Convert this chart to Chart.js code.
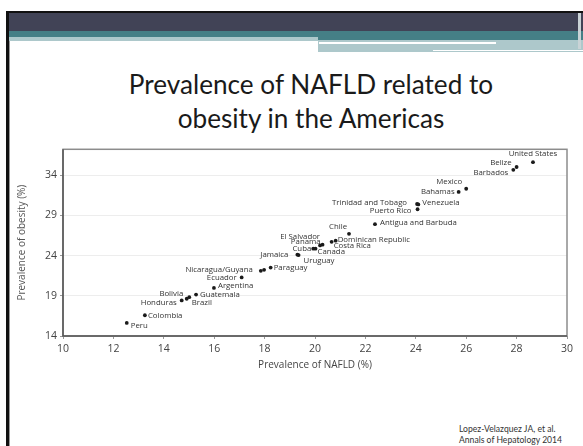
<!DOCTYPE html>
<html>
<head>
<meta charset="utf-8">
<script src="https://cdn.jsdelivr.net/npm/chart.js@4.4.1/dist/chart.umd.min.js"></script>
<style>
  html, body { margin: 0; padding: 0; background: #fff; }
  body { width: 583px; height: 446px; position: relative; overflow: hidden; font-family: Lato, sans-serif; }
  .abs { position: absolute; }
  #titulo { left: 40px; width: 542px; top: 67px; text-align: center; color: #1a1a1a; line-height: 34px; white-space: nowrap; }
  #citacao { left: 459px; top: 424px; font-size: 8.6px; line-height: 11px; color: #333; white-space: nowrap; }
  #grafico { left: 0; top: 140px; }
</style>
</head>
<body>
<!-- moldura e faixas do slide -->
<div class="abs" style="left:6px;top:11px;width:577px;height:2px;background:#111"></div>
<div class="abs" style="left:6px;top:11px;width:3px;height:435px;background:#111"></div>
<div class="abs" style="left:9px;top:13px;width:1px;height:433px;background:#999"></div>
<div class="abs" style="left:9px;top:13px;width:574px;height:18px;background:#414356"></div>
<div class="abs" style="left:9px;top:31px;width:574px;height:6px;background:#457f86"></div>
<div class="abs" style="left:9px;top:37px;width:309px;height:4px;background:#adc8cb"></div>
<div class="abs" style="left:318px;top:37px;width:265px;height:3px;background:#457f86"></div>
<div class="abs" style="left:318px;top:40px;width:265px;height:12px;background:#adc8cb"></div>
<div class="abs" style="left:319px;top:42px;width:177px;height:2px;background:#fff"></div>
<div class="abs" style="left:433px;top:50px;width:150px;height:1px;background:#fff"></div>
<div class="abs" style="left:578px;top:13px;width:3px;height:36px;background:#c9d3d6"></div>

<div id="titulo" class="abs"><span id="linha1">Prevalence of NAFLD related to</span><br><span>obesity in the Americas</span></div>
<canvas id="grafico" class="abs" width="583" height="240"></canvas>
<div id="citacao" class="abs">Lopez-Velazquez JA, et al.<br>Annals of Hepatology 2014</div>

<script>
// Dados (prevalência em %)
const paises = ['United States', 'Belize', 'Barbados', 'Mexico', 'Bahamas', 'Trinidad and Tobago',
    'Venezuela', 'Puerto Rico', 'Antigua and Barbuda', 'Chile', 'Dominican Republic', 'Costa Rica',
    'Panama', 'El Salvador', 'Cuba', 'Canada', 'Jamaica', 'Uruguay', 'Paraguay', 'Nicaragua',
    'Guyana', 'Ecuador', 'Argentina', 'Guatemala', 'Bolivia', 'Brazil', 'Honduras', 'Colombia', 'Peru'];

const nafld = [28.65, 28.0, 27.87, 26.0, 25.7, 24.05, 24.1, 24.07, 22.38, 21.35, 20.82, 20.66,
    20.3, 20.2, 19.93, 20.02, 19.3, 19.35, 18.24, 17.85, 17.98, 17.09, 15.99, 15.28, 15.01, 14.91,
    14.71, 13.25, 12.53];

const obesidade = [35.6, 35.0, 34.65, 32.3, 31.9, 30.4, 30.35, 29.75, 27.9, 26.7, 25.85, 25.7,
    25.35, 25.25, 24.85, 24.85, 24.1, 24.05, 22.5, 22.1, 22.22, 21.28, 19.98, 19.15, 18.82, 18.63,
    18.42, 16.58, 15.63];

// Nicaragua e Guyana partilham um único rótulo
const rotulos = paises.map(p => p === 'Nicaragua' ? 'Nicaragua/Guyana' : (p === 'Guyana' ? '' : p));

const xTicks = [10, 12, 14, 16, 18, 20, 22, 24, 26, 28, 30];
const yTicks = [14, 19, 24, 29, 34];

// Posição de cada rótulo em relação ao ponto: [alinhamento, dx, dy]
const posRotulos = [
    ['center', 0, -8], ['right', -5, -4], ['right', -5, 3], ['right', -4, -7], ['right', -4, 0],
    ['right', -10, -1], ['left', 4, -2], ['right', -6, 2], ['left', 5, -1], ['right', -2, -7],
    ['left', 2, -1], ['left', 2, 4], ['right', -2, -3], ['right', 0, -9], ['right', -2, 0],
    ['left', 2, 3], ['right', -9, 0], ['left', 5, 6], ['left', 3, 0], ['right', -8, -1],
    ['left', 0, 0], ['right', -5, 0], ['left', 4, -2], ['left', 4, 0], ['right', -6, -3],
    ['left', 5, 4], ['right', -5, 2], ['left', 3, 1], ['left', 4, 3]
];

// Ajustar o tamanho do título à largura do original
(function ajustarTitulo() {
    const c = document.createElement('canvas').getContext('2d');
    c.font = '100px Lato';
    const w = c.measureText(document.getElementById('linha1').textContent).width;
    document.getElementById('titulo').style.fontSize = (365 / w * 100).toFixed(2) + 'px';
})();

// Plugin: rótulos dos países
const rotulosPlugin = {
    id: 'rotulos',
    afterDatasetsDraw(chart) {
        const ctx = chart.ctx;
        const meta = chart.getDatasetMeta(0);
        ctx.save();
        ctx.font = "7.8px 'Open Sans'";
        ctx.fillStyle = '#333';
        ctx.textBaseline = 'middle';
        meta.data.forEach((pt, i) => {
            const txt = rotulos[i];
            if (!txt) return;
            const [align, dx, dy] = posRotulos[i];
            ctx.textAlign = align;
            ctx.fillText(txt, pt.x + dx, pt.y + dy);
        });
        ctx.restore();
    }
};

// Plugin: moldura da área do gráfico
const molduraPlugin = {
    id: 'moldura',
    beforeDatasetsDraw(chart) {
        const { ctx, chartArea: a } = chart;
        ctx.save();
        ctx.strokeStyle = '#8c8c8c';
        ctx.lineWidth = 1.5;
        ctx.strokeRect(a.left, a.top, a.right - a.left, a.bottom - a.top);
        ctx.strokeStyle = '#555';
        ctx.beginPath();
        ctx.moveTo(a.left, a.top);
        ctx.lineTo(a.left, a.bottom);
        ctx.lineTo(a.right, a.bottom);
        ctx.stroke();
        ctx.restore();
    }
};

const fonteEixo = { family: "'Open Sans'", size: 10.5 };

new Chart(document.getElementById('grafico').getContext('2d'), {
    type: 'scatter',
    data: {
        datasets: [{
            data: nafld.map((x, i) => ({ x: x, y: obesidade[i] })),
            backgroundColor: '#1a1a1a',
            borderWidth: 0,
            pointRadius: 1.9
        }]
    },
    options: {
        responsive: false,
        animation: false,
        layout: { padding: { top: 7, right: 16, left: 12, bottom: 0 } },
        plugins: { legend: { display: false }, tooltip: { enabled: false } },
        scales: {
            x: {
                type: 'linear',
                min: 10,
                max: 30,
                afterBuildTicks: s => { s.ticks = xTicks.map(v => ({ value: v })); },
                afterFit: s => { s.height = 44; },
                ticks: { font: fonteEixo, color: '#444', padding: 4, maxRotation: 0 },
                grid: { drawOnChartArea: false, drawTicks: true, tickLength: 3, tickColor: '#999' },
                border: { display: false },
                title: { display: true, text: 'Prevalence of NAFLD (%)', color: '#444', font: { family: "'Open Sans'", size: 10 }, padding: { top: 0, bottom: 9 } }
            },
            y: {
                type: 'linear',
                min: 14,
                max: 37.2,
                afterBuildTicks: s => { s.ticks = yTicks.map(v => ({ value: v })); },
                afterFit: s => { s.width = 51; },
                ticks: { font: fonteEixo, color: '#444', padding: 3 },
                grid: { color: '#ededed', drawTicks: true, tickLength: 3, tickColor: '#999' },
                border: { display: false },
                title: { display: true, text: 'Prevalence of obesity (%)', color: '#555', font: { family: "'Open Sans'", size: 10 }, padding: { top: 4, bottom: 4 } }
            }
        }
    },
    plugins: [molduraPlugin, rotulosPlugin]
});
</script>
</body>
</html>
